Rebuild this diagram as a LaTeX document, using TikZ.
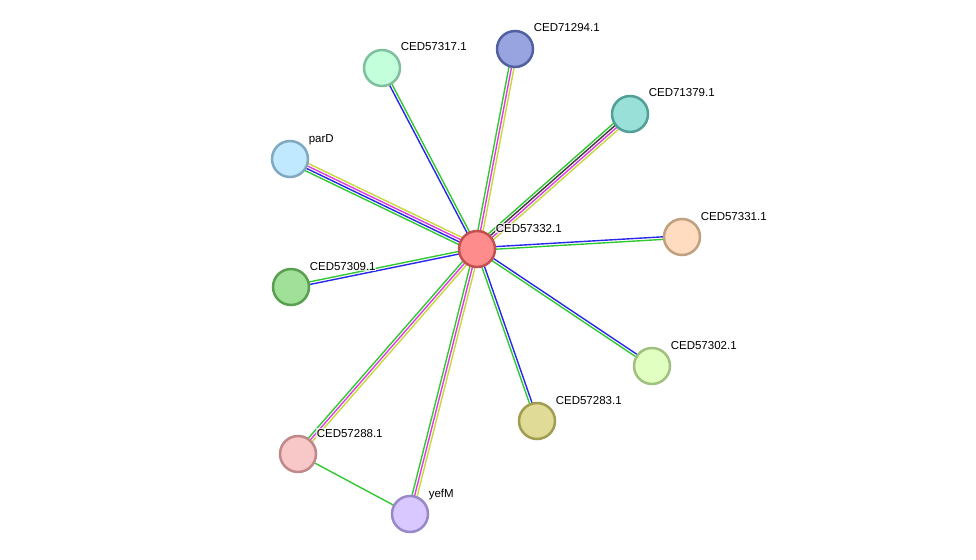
\documentclass[tikz,border=0pt]{standalone}
\usepackage{fontspec}
\setmainfont{Liberation Sans}
\usetikzlibrary{calc,backgrounds}
\definecolor{egreen}{RGB}{50,200,50}
\definecolor{eblue}{RGB}{40,40,235}
\definecolor{emag}{RGB}{225,60,225}
\definecolor{eyel}{RGB}{200,215,60}
\definecolor{eblk}{RGB}{60,60,60}
\newcommand\stredge[3]{%
  \foreach \col [count=\i] in {#3} {\xdef\nlines{\i}}%
  \foreach \col [count=\i] in {#3} {%
    \pgfmathsetmacro\off{(\i-(\nlines+1)/2)*2.6}%
    \draw[color=\col, edgeline] ($(#1.center)!\off pt!90:(#2.center)$) -- ($(#2.center)!\off pt!-90:(#1.center)$);
  }%
}
\begin{document}
\begin{tikzpicture}[x=1pt,y=-1pt,
  prot/.style={circle, minimum size=36pt, inner sep=0pt, line width=2.5pt},
  lbl/.style={anchor=base west, font=\fontsize{11.5}{13}\selectfont, inner sep=0.6pt, fill=white, fill opacity=0.7, text opacity=1},
  edgeline/.style={line width=1.4pt}]
\useasboundingbox (0,0) rectangle (976,559);
% nodes
\node[prot, fill={rgb,255:red,255;green,140;blue,140}, draw={rgb,255:red,195;green,80;blue,80}] (c) at (477,249) {};
\node[prot, fill={rgb,255:red,195;green,255;blue,218}, draw={rgb,255:red,128;green,192;blue,158}] (p17) at (382,68) {};
\node[prot, fill={rgb,255:red,152;green,164;blue,224}, draw={rgb,255:red,80;green,96;blue,160}] (p94) at (515,49) {};
\node[prot, fill={rgb,255:red,152;green,224;blue,216}, draw={rgb,255:red,80;green,160;blue,152}] (p79) at (630,114) {};
\node[prot, fill={rgb,255:red,192;green,232;blue,255}, draw={rgb,255:red,128;green,168;blue,192}] (parD) at (290,159) {};
\node[prot, fill={rgb,255:red,160;green,224;blue,152}, draw={rgb,255:red,88;green,160;blue,80}] (p09) at (291,287) {};
\node[prot, fill={rgb,255:red,255;green,220;blue,192}, draw={rgb,255:red,192;green,160;blue,128}] (p31) at (682,237) {};
\node[prot, fill={rgb,255:red,224;green,255;blue,192}, draw={rgb,255:red,160;green,192;blue,128}] (p02) at (652,366) {};
\node[prot, fill={rgb,255:red,224;green,220;blue,152}, draw={rgb,255:red,160;green,156;blue,80}] (p83) at (537,421) {};
\node[prot, fill={rgb,255:red,248;green,200;blue,200}, draw={rgb,255:red,192;green,136;blue,136}] (p88) at (298,454) {};
\node[prot, fill={rgb,255:red,216;green,200;blue,255}, draw={rgb,255:red,152;green,136;blue,200}] (yefM) at (410,514) {};
% edges
\begin{pgfonlayer}{background}
\stredge{c}{p17}{egreen,eblue}
\stredge{c}{p94}{eyel,emag,egreen}
\stredge{c}{p79}{eyel,emag,eblk,egreen}
\stredge{c}{parD}{eyel,emag,eblue,egreen}
\stredge{c}{p09}{egreen,eblue}
\stredge{c}{p31}{egreen,eblue}
\stredge{c}{p02}{egreen,eblue}
\stredge{c}{p83}{egreen,eblue}
\stredge{c}{p88}{egreen,emag,eyel}
\stredge{c}{yefM}{egreen,emag,eyel}
\draw[egreen, edgeline] (p88.center) -- (yefM.center);
\end{pgfonlayer}
% labels
\node[lbl] (lc) at ($(c)+(18,-17)$) {CED57332.1};
\node[lbl] (l17) at ($(p17)+(18,-17)$) {CED57317.1};
\node[lbl] (l94) at ($(p94)+(18,-17)$) {CED71294.1};
\node[lbl] (l79) at ($(p79)+(18,-17)$) {CED71379.1};
\node[lbl] (lparD) at ($(parD)+(18,-17)$) {parD};
\node[lbl] (l09) at ($(p09)+(18,-17)$) {CED57309.1};
\node[lbl] (l31) at ($(p31)+(18,-17)$) {CED57331.1};
\node[lbl] (l02) at ($(p02)+(18,-17)$) {CED57302.1};
\node[lbl] (l83) at ($(p83)+(18,-17)$) {CED57283.1};
\node[lbl] (l88) at ($(p88)+(18,-17)$) {CED57288.1};
\node[lbl] (lyefM) at ($(yefM)+(18,-17)$) {yefM};
\end{tikzpicture}
\end{document}
